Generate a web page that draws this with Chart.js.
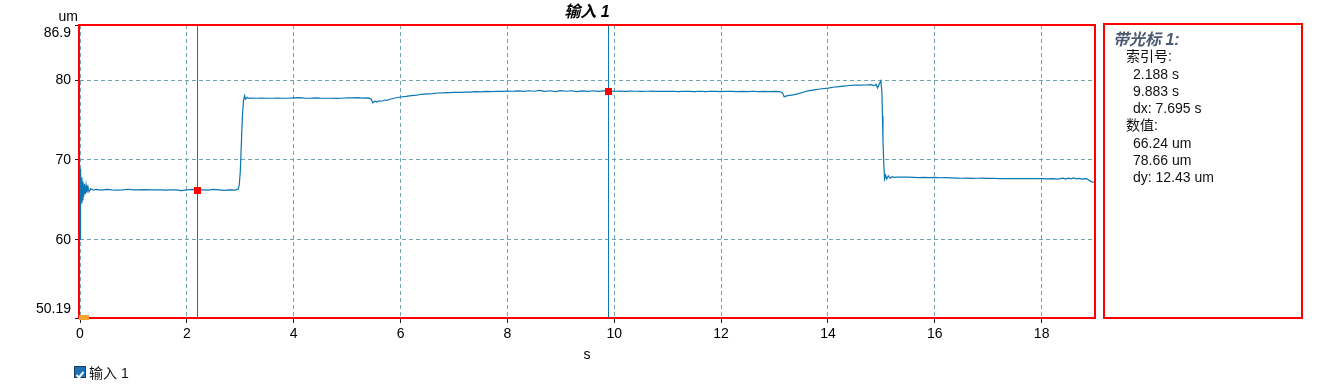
<!DOCTYPE html>
<html>
<head>
<meta charset="utf-8">
<script src="https://cdn.jsdelivr.net/npm/chart.js@4.4.1/dist/chart.umd.min.js"></script>
<style>
  body { margin: 0; background: #fff; font-family: "Liberation Sans", Arial, "Noto Sans CJK SC", sans-serif; }
  #wrap { position: relative; width: 1318px; height: 388px; }
  #chart { position: absolute; left: 0; top: 0; }
  #panel {
    position: absolute; left: 1103px; top: 23px; width: 200px; height: 296px;
    box-sizing: border-box; border: 2px solid #f00; padding: 6px 0 0 8px;
    font-size: 14px; line-height: 17.25px; color: #111;
  }
  #panel .head { font-weight: bold; font-style: italic; font-size: 16px; color: #4a5870; }
  #panel .sub { padding-left: 13px; }
  #panel .val { padding-left: 20px; }
  #legend { position: absolute; left: 74px; top: 362px; font-size: 14px; color: #111; display: flex; align-items: center; }
  #legend .box { width: 12px; height: 12px; box-sizing: border-box; background: #1a72b5; border: 1px solid #1c3d63; margin-right: 3px; }
</style>
</head>
<body>
<div id="wrap">
  <canvas id="chart" width="1318" height="388"></canvas>
  <div id="panel">
    <div class="head">带光标 1:</div>
    <div class="sub">索引号:</div>
    <div class="val">2.188 s</div>
    <div class="val">9.883 s</div>
    <div class="val">dx: 7.695 s</div>
    <div class="sub">数值:</div>
    <div class="val">66.24 um</div>
    <div class="val">78.66 um</div>
    <div class="val">dy: 12.43 um</div>
  </div>
  <div id="legend">
    <div class="box"><svg width="10" height="10" viewBox="0 0 10 10"><polyline points="1.5,5 4,7.5 8.5,2" fill="none" stroke="#fff" stroke-width="2"/></svg></div>
    <span>输入 1</span>
  </div>
</div>
<script>
// signal
const timeS = [
  0, 0.005, 0.015, 0.025, 0.035, 0.045, 0.055, 0.07, 0.085, 0.1, 0.115, 0.13, 0.15, 0.17, 0.2, 0.25, 0.3,
  0.4, 0.5, 0.6, 0.7, 0.8, 0.9, 1.0, 1.1, 1.2, 1.3, 1.4, 1.5, 1.6, 1.7, 1.8, 1.9, 2.0, 2.1, 2.2, 2.3, 2.4,
  2.5, 2.6, 2.7, 2.8, 2.9, 2.96, 2.98, 3.0, 3.02, 3.04, 3.06, 3.08, 3.1, 3.13, 3.16, 3.2, 3.3, 3.4, 3.5,
  3.6, 3.7, 3.8, 3.9, 4.0, 4.1, 4.2, 4.3, 4.4, 4.5, 4.6, 4.7, 4.8, 4.9, 5.0, 5.1, 5.2, 5.3, 5.4, 5.45,
  5.48, 5.52, 5.56, 5.6, 5.65, 5.7, 5.75, 5.8, 5.9, 6.0, 6.1, 6.2, 6.3, 6.4, 6.5, 6.6, 6.7, 6.8, 6.9,
  7.0, 7.1, 7.2, 7.3, 7.4, 7.5, 7.6, 7.7, 7.8, 7.9, 8.0, 8.1, 8.2, 8.3, 8.4, 8.5, 8.6, 8.7, 8.8, 8.9,
  9.0, 9.1, 9.2, 9.3, 9.4, 9.5, 9.6, 9.7, 9.8, 9.9, 10.0, 10.1, 10.2, 10.3, 10.4, 10.5, 10.6, 10.7, 10.8,
  10.9, 11.0, 11.1, 11.2, 11.3, 11.4, 11.5, 11.6, 11.7, 11.8, 11.9, 12.0, 12.1, 12.2, 12.3, 12.4, 12.5,
  12.6, 12.7, 12.8, 12.9, 13.0, 13.1, 13.15, 13.18, 13.25, 13.35, 13.45, 13.55, 13.65, 13.75, 13.85,
  14.0, 14.1, 14.2, 14.3, 14.4, 14.5, 14.6, 14.7, 14.8, 14.86, 14.9, 14.93, 14.96, 14.99, 15.01, 15.02,
  15.03, 15.045, 15.06, 15.08, 15.1, 15.13, 15.16, 15.2, 15.25, 15.3, 15.4, 15.5, 15.6, 15.7, 15.8, 15.9,
  16.0, 16.1, 16.2, 16.3, 16.4, 16.5, 16.6, 16.7, 16.8, 16.9, 17.0, 17.1, 17.2, 17.3, 17.4, 17.5, 17.6,
  17.7, 17.8, 17.9, 18.0, 18.1, 18.2, 18.3, 18.4, 18.45, 18.5, 18.55, 18.6, 18.65, 18.7, 18.75, 18.8,
  18.85, 18.9, 18.94, 18.98
];
const valueUm = [
  60.0, 65.8, 68.9, 64.6, 67.8, 65.0, 67.3, 65.4, 67.0, 65.7, 66.8, 65.9, 66.6, 66.0, 66.4, 66.2, 66.3,
  66.22, 66.30, 66.25, 66.22, 66.25, 66.32, 66.25, 66.24, 66.28, 66.25, 66.24, 66.25, 66.22, 66.25, 66.25, 66.16, 66.25, 66.30, 66.24, 66.25, 66.22,
  66.30, 66.25, 66.18, 66.25, 66.22, 66.35, 66.8, 68.5, 72.0, 75.5, 77.4, 78.05, 77.6, 77.85, 77.7, 77.75, 77.72, 77.75, 77.72,
  77.72, 77.75, 77.72, 77.72, 77.78, 77.80, 77.75, 77.72, 77.78, 77.74, 77.72, 77.72, 77.70, 77.72, 77.76, 77.78, 77.80, 77.74, 77.76, 77.6,
  77.15, 77.35, 77.25, 77.4, 77.35, 77.5, 77.45, 77.6, 77.75, 77.88, 77.95, 78.05, 78.12, 78.22, 78.28, 78.3, 78.38, 78.4, 78.42,
  78.45, 78.45, 78.5, 78.5, 78.55, 78.52, 78.58, 78.55, 78.6, 78.58, 78.62, 78.6, 78.65, 78.58, 78.66, 78.6, 78.7, 78.58, 78.66, 78.56,
  78.68, 78.6, 78.66, 78.56, 78.64, 78.58, 78.66, 78.58, 78.64, 78.66, 78.6, 78.62, 78.58, 78.62, 78.6, 78.58, 78.6, 78.62, 78.58,
  78.6, 78.58, 78.6, 78.55, 78.6, 78.58, 78.56, 78.6, 78.56, 78.6, 78.58, 78.56, 78.6, 78.58, 78.56, 78.58, 78.56,
  78.6, 78.56, 78.58, 78.56, 78.58, 78.56, 78.4, 77.92, 78.05, 78.15, 78.3, 78.5, 78.68, 78.78, 78.88,
  79.0, 79.1, 79.18, 79.25, 79.32, 79.36, 79.36, 79.38, 79.42, 79.3, 79.45, 79.0, 79.5, 79.9, 78.5, 75.5,
  72.5, 69.5, 67.6, 68.1, 67.6, 68.0, 67.7, 67.9, 67.82, 67.85, 67.83, 67.83, 67.82, 67.78, 67.82, 67.78,
  67.8, 67.76, 67.78, 67.75, 67.72, 67.7, 67.72, 67.68, 67.7, 67.72, 67.68, 67.7, 67.66, 67.66, 67.65, 67.66, 67.64,
  67.65, 67.64, 67.65, 67.64, 67.63, 67.64, 67.6, 67.72, 67.6, 67.7, 67.62, 67.75, 67.62, 67.68, 67.6, 67.65,
  67.62, 67.4, 67.25, 67.22
];

const xTicks = [0, 2, 4, 6, 8, 10, 12, 14, 16, 18];
const yTicks = [50.19, 60, 70, 80, 86.9];
const xMin = 0, xMax = 18.98;
const cursorTimes = [2.188, 9.883];
const cursorValues = [66.24, 78.66];

const lineColor = '#0a76b2';
const gridColor = '#6fa5ab';
const font = { family: '"Liberation Sans", Arial, sans-serif', size: 14 };

const extras = {
  id: 'extras',
  beforeDatasetsDraw(chart) {
    const { ctx, chartArea: a, scales: { x } } = chart;
    ctx.save();
    ctx.strokeStyle = lineColor;
    ctx.lineWidth = 1;
    cursorTimes.forEach((t) => {
      const px = Math.round(x.getPixelForValue(t)) + 0.5;
      ctx.beginPath();
      ctx.moveTo(px, a.top);
      ctx.lineTo(px, a.bottom);
      ctx.stroke();
    });
    ctx.restore();
  },
  afterDraw(chart) {
    const { ctx, chartArea: a, scales: { x, y } } = chart;
    ctx.save();
    // frame sits just outside the left edge so the trace at t=0 stays visible
    ctx.strokeStyle = '#ff0000';
    ctx.lineWidth = 2;
    ctx.strokeRect(a.left - 1, a.top, a.right + 1 - (a.left - 1), a.bottom - a.top);

    ctx.fillStyle = '#ff0000';
    cursorTimes.forEach((t, i) => {
      const px = Math.round(x.getPixelForValue(t));
      const py = Math.round(y.getPixelForValue(cursorValues[i]));
      ctx.fillRect(px - 3, py - 3, 7, 7);
    });

    ctx.fillStyle = '#f2a431';
    ctx.fillRect(a.left - 1, a.bottom - 3, 10, 5);

    ctx.fillStyle = '#000';
    ctx.font = `bold italic 16px "Liberation Sans", Arial, "Noto Sans CJK SC", sans-serif`;
    ctx.textAlign = 'center';
    ctx.textBaseline = 'middle';
    ctx.fillText('输入 1', (a.left + a.right) / 2, 13);

    ctx.font = `14px "Liberation Sans", Arial, sans-serif`;
    ctx.textAlign = 'right';
    ctx.fillText('um', a.left - 2, 17);
    ctx.restore();
  },
};

const points = timeS.map((t, i) => ({ x: t, y: valueUm[i] }));

new Chart(document.getElementById('chart'), {
  type: 'line',
  data: {
    datasets: [{
      label: '输入 1',
      data: points,
      borderColor: lineColor,
      borderWidth: 1.2,
      pointRadius: 0,
      tension: 0,
    }],
  },
  options: {
    responsive: false,
    animation: false,
    devicePixelRatio: 1,
    layout: { padding: { top: 25, right: 224, bottom: 24, left: 0 } },
    plugins: { legend: { display: false }, tooltip: { enabled: false } },
    scales: {
      x: {
        type: 'linear',
        min: xMin,
        max: xMax,
        afterBuildTicks: (s) => { s.ticks = xTicks.map((v) => ({ value: v })); },
        afterFit: (s) => { s.height = 46; },
        ticks: { color: '#000', font, padding: 3, maxRotation: 0 },
        grid: { color: gridColor, tickColor: '#222', tickLength: 5, lineWidth: 1 },
        border: { display: false, dash: [4, 3] },
        title: { display: true, text: 's', color: '#000', font, padding: { top: 2, bottom: 0 } },
      },
      y: {
        min: yTicks[0],
        max: yTicks[yTicks.length - 1],
        afterBuildTicks: (s) => { s.ticks = yTicks.map((v) => ({ value: v })); },
        afterFit: (s) => { s.width = 80; },
        ticks: {
          color: '#000',
          font,
          padding: 4,
          callback: (v) => {
            if (v === yTicks[yTicks.length - 1]) return ['', String(v)];
            if (v === yTicks[0]) return [String(v), ''];
            return String(v);
          },
        },
        grid: { color: gridColor, tickColor: '#222', tickLength: 5, lineWidth: 1 },
        border: { display: false, dash: [4, 3] },
      },
    },
  },
  plugins: [extras],
});
</script>
</body>
</html>
